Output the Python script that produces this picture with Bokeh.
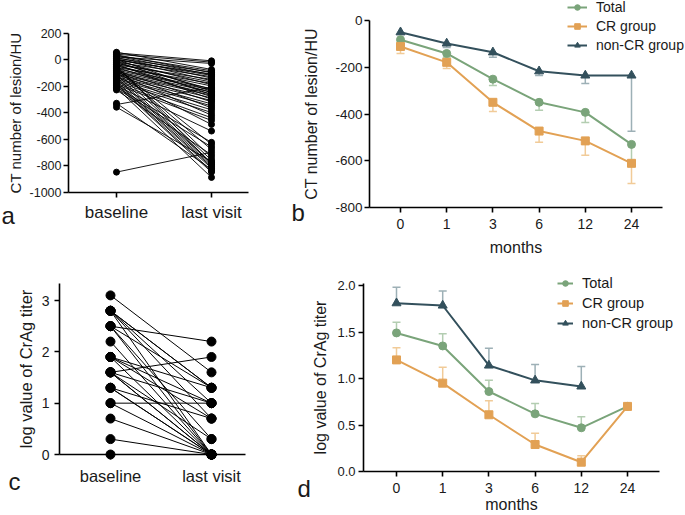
import math
from bokeh.plotting import figure
from bokeh.layouts import row, column
from bokeh.models import (ColumnDataSource, Whisker, TeeHead, Legend, LegendItem, Label,
                          FixedTicker, Range1d)
from bokeh.embed import file_html
from bokeh.resources import INLINE

FONT = "Liberation Sans"
INK = "#1a1a1a"

# ---------------- data ----------------
visit_labels = ["baseline", "last visit"]

# panel a: CT number of lesion (HU), paired baseline / last visit
ct_baseline = [50, 40, 20, 55, 30, 10, 35, -5, 25, 0, -20, 15, -40, 5, -30, -60, -10, -50,
               -340, -70, -25, -80, 0, -90, -45, -100, -15, -110, -60, -120, -35, -130, -85,
               -140, -150, -95, -160, -170, -105, -180, -190, -125, -200, -210, -65, -220,
               -75, -850, -230, -55, -90, -360, -115, -135, -40, -145, -165, -175, -330,
               -185, -195, -215]
ct_last = [-10, -20, -30, -75, -85, -95, -100, -110, -115, -120, -130, -140, -150, -160,
           -170, -180, -190, -200, -210, -220, -225, -230, -240, -245, -250, -260, -265,
           -270, -280, -290, -300, -310, -320, -335, -350, -365, -380, -400, -420, -440,
           -460, -490, -540, -625, -640, -660, -680, -700, -720, -740, -760, -770, -780,
           -785, -790, -800, -810, -820, -830, -840, -850, -890]
ct_ticks = [-1000, -800, -600, -400, -200, 0, 200]

# panel b / d categories
month_labels = ["0", "1", "3", "6", "12", "24"]
group_names = ["Total", "CR group", "non-CR group"]

# panel b: CT number over time (mean, SEM drawn downward)
ct_total = [-82, -141, -251, -350, -393, -530]
ct_total_err = [15, 17, 27, 34, 43, 70]
ct_cr = [-111, -179, -350, -473, -515, -611]
ct_cr_err = [30, 26, 39, 48, 62, 86]
ct_noncr = [-50, -98, -136, -217, -235, -235]
ct_noncr_err = [10, 17, 21, 18, 34, 239]
ct_time_ticks = [-800, -600, -400, -200, 0]

# panel c: log CrAg titer, paired baseline / last visit
crag_baseline = [3.1, 2.8, 2.8, 2.8, 2.8, 2.8, 2.5, 2.5, 2.5, 2.5, 2.2, 1.9, 1.9, 1.9, 1.9,
                 1.6, 1.6, 1.6, 1.6, 1.6, 1.3, 1.3, 1.3, 1.0, 1.0, 0.7, 0.3, 0.0]
crag_last = [1.6, 1.3, 1.0, 0.7, 0.0, 1.3, 2.2, 1.3, 0.3, 0.0, 0.0, 1.3, 0.7, 0.0, 1.0,
             1.9, 1.0, 0.3, 0.0, 0.0, 0.0, 0.0, 0.7, 1.0, 0.0, 0.0, 0.0, 0.0]
crag_ticks = [0, 1, 2, 3]

# panel d: log CrAg titer over time (mean, SEM drawn upward)
nan = float("nan")
crag_total = [1.49, 1.35, 0.86, 0.62, 0.47, 0.70]
crag_total_err = [0.115, 0.13, 0.12, 0.11, 0.12, 0.0]
crag_cr = [1.20, 0.95, 0.61, 0.29, 0.10, 0.70]
crag_cr_err = [0.13, 0.17, 0.15, 0.12, 0.07, 0.0]
crag_noncr = [1.81, 1.785, 1.14, 0.98, 0.915, nan]
crag_noncr_err = [0.17, 0.155, 0.185, 0.17, 0.215, 0.0]
crag_time_ticks = [0.0, 0.5, 1.0, 1.5, 2.0]

colors = {"Total": "#7AA47A", "CR group": "#E2A154", "non-CR group": "#33505C"}
err_colors = {"Total": "#B3CDB1", "CR group": "#F1CB98", "non-CR group": "#9DB0B6"}
markers = {"Total": "circle", "CR group": "square", "non-CR group": "triangle"}
msizes = {"Total": 8, "CR group": 8, "non-CR group": 9}


# ---------------- layout helpers ----------------
class Geo:
    """Pixel geometry of a panel: the frame fills the whole canvas."""
    def __init__(self, W, H, x0, xs, y0, ys):
        self.W, self.H, self.x0, self.xs, self.y0, self.ys = W, H, x0, xs, y0, ys

    def dx(self, px):
        return (px - self.x0) / self.xs

    def dy(self, py):
        return (self.y0 - py) / self.ys


def make_fig(g):
    p = figure(width=g.W, height=g.H, x_range=Range1d(g.dx(0), g.dx(g.W)),
               y_range=Range1d(g.dy(g.H), g.dy(0)), output_backend="svg",
               toolbar_location=None, min_border=0, min_border_left=0, min_border_right=0,
               min_border_top=0, min_border_bottom=0)
    p.xgrid.visible = False
    p.ygrid.visible = False
    p.outline_line_color = None
    p.background_fill_color = "white"
    p.border_fill_color = "white"
    for ax in (p.xaxis[0], p.yaxis[0]):
        ax.axis_line_color = "black"
        ax.axis_line_width = 1.6
        ax.major_tick_line_color = "black"
        ax.major_tick_line_width = 1.6
        ax.major_tick_out = 5
        ax.major_tick_in = 0
        ax.minor_tick_line_color = None
        ax.major_label_text_font = FONT
        ax.axis_label_text_font = FONT
        ax.axis_label_text_font_style = "normal"
        ax.major_label_text_color = INK
        ax.axis_label_text_color = INK
    return p


def set_axes(p, g, xb, ybot, ytop, xticks, xlabels, yticks, ylabels, xfs, yfs, yl, ylfs,
             xstand, ystand, ylstand, xl=None, xlfs=None, xlstand=0):
    xa, ya = p.xaxis[0], p.yaxis[0]
    xlo, xhi = g.dx(xb[0]), g.dx(xb[1])
    xa.ticker = FixedTicker(ticks=xticks)
    xa.major_label_overrides = {t: s for t, s in zip(xticks, xlabels)}
    xa.major_label_text_font_size = xfs
    xa.major_label_standoff = xstand
    xa.bounds = (xlo, xhi)
    xa.fixed_location = ybot
    if xl:
        xa.axis_label = xl
        xa.axis_label_text_font_size = xlfs
        xa.axis_label_standoff = xlstand
    ya.ticker = FixedTicker(ticks=yticks)
    ya.major_label_overrides = {t: s for t, s in zip(yticks, ylabels)}
    ya.major_label_text_font_size = yfs
    ya.major_label_standoff = ystand
    ya.axis_label = yl
    ya.axis_label_text_font_size = ylfs
    ya.axis_label_standoff = ylstand
    ya.bounds = (ybot, ytop)
    ya.fixed_location = xlo


def letter(p, g, txt, px, py):
    p.add_layout(Label(x=g.dx(px), y=g.dy(py), text=txt, text_font=FONT,
                       text_font_size="24px", text_color=INK,
                       text_baseline="alphabetic", text_align="left"))


def paired(p, base, last, msize, lw):
    i0 = visit_labels.index("baseline")
    i1 = visit_labels.index("last visit")
    p.multi_line(xs=[[i0, i1] for _ in base], ys=[[b, l] for b, l in zip(base, last)],
                 line_color="black", line_width=lw)
    p.scatter([i0] * len(base), base, size=msize, color="black")
    p.scatter([i1] * len(last), last, size=msize, color="black")


def series(p, name, vals, errs, downward):
    xs = list(range(len(month_labels)))
    src = ColumnDataSource(dict(x=xs, y=vals))
    wx, wlo, whi = [], [], []
    for x, v, e in zip(xs, vals, errs):
        if not math.isnan(v) and e > 0:
            wx.append(x)
            if downward:
                wlo.append(v - e); whi.append(v)
            else:
                wlo.append(v); whi.append(v + e)
    wsrc = ColumnDataSource(dict(x=wx, lo=wlo, hi=whi))
    head = TeeHead(size=8, line_color=err_colors[name], line_width=1.5)
    if downward:
        w = Whisker(source=wsrc, base="x", lower="lo", upper="hi", lower_head=head,
                    upper_head=None, line_color=err_colors[name], line_width=1.5,
                    level="underlay")
    else:
        w = Whisker(source=wsrc, base="x", lower="lo", upper="hi", upper_head=head,
                    lower_head=None, line_color=err_colors[name], line_width=1.5,
                    level="underlay")
    p.add_layout(w)
    ln = p.line("x", "y", source=src, line_color=colors[name], line_width=2)
    sc = p.scatter("x", "y", source=src, marker=markers[name], size=msizes[name],
                   fill_color=colors[name], line_color=colors[name])
    return LegendItem(label=name, renderers=[ln, sc])


def legend(p, items, loc, fs, gw, stand, spacing):
    lg = Legend(items=items, location=loc, label_text_font=FONT, label_text_font_size=fs,
                label_text_color=INK, glyph_width=gw, glyph_height=14, label_height=14,
                label_standoff=stand, spacing=spacing, padding=0, margin=0,
                border_line_alpha=0, background_fill_alpha=0)
    p.add_layout(lg)


# ---------------- panel a ----------------
ga = Geo(290, 270, 116, 95, 59, 0.1325)
pa = make_fig(ga)
set_axes(pa, ga, (68, 248), ct_ticks[0], ct_ticks[-1], [0, 1], visit_labels, ct_ticks,
         [str(t) for t in ct_ticks], "17px", "12.5px", "CT number of lesion/HU", "15px",
         6, 2, 3)
paired(pa, ct_baseline, ct_last, 6, 0.9)
letter(pa, ga, "a", 1, 215)

# ---------------- panel b ----------------
gb = Geo(394, 270, 110, 46.2, 20, 0.23375)
pb = make_fig(gb)
set_axes(pb, gb, (79, 372), ct_time_ticks[0], ct_time_ticks[-1],
         list(range(len(month_labels))), month_labels, ct_time_ticks,
         [str(t) for t in ct_time_ticks], "14px", "13.5px", "CT number of lesion/HU",
         "16px", 6, 2, 12, xl="months", xlfs="16px", xlstand=7)
items_b = [series(pb, "non-CR group", ct_noncr, ct_noncr_err, True),
           series(pb, "Total", ct_total, ct_total_err, True),
           series(pb, "CR group", ct_cr, ct_cr_err, True)]
legend(pb, [items_b[1], items_b[2], items_b[0]], (277, 217), "14px", 20, 9, 3)
letter(pb, gb, "b", 1, 212)

# ---------------- panel c ----------------
gc = Geo(290, 245, 110, 101, 184, 51.33)
pc = make_fig(gc)
set_axes(pc, gc, (59, 245), crag_ticks[0], gc.dy(13), [0, 1], visit_labels, crag_ticks,
         [str(t) for t in crag_ticks], "16.5px", "14px", "log value of CrAg titer",
         "16.5px", 7, 5, 4)
paired(pc, crag_baseline, crag_last, 9, 1.0)
letter(pc, gc, "c", 8, 211)

# ---------------- panel d ----------------
gd = Geo(394, 245, 106, 46.2, 201, 93)
pd_ = make_fig(gd)
set_axes(pd_, gd, (73, 369), crag_time_ticks[0], gd.dy(13),
         list(range(len(month_labels))), month_labels, crag_time_ticks,
         ["%.1f" % t for t in crag_time_ticks], "14px", "13px", "log value of CrAg titer",
         "16px", 6, 3, 5, xl="months", xlfs="16px", xlstand=0)
items_d = [series(pd_, "non-CR group", crag_noncr, crag_noncr_err, False),
           series(pd_, "Total", crag_total, crag_total_err, False),
           series(pd_, "CR group", crag_cr, crag_cr_err, False)]
legend(pd_, [items_d[1], items_d[2], items_d[0]], (267, 184), "14.5px", 16, 9, 4)
letter(pd_, gd, "d", 7, 218)

layout = column(row(pa, pb), row(pc, pd_))
open("out.html", "w").write(file_html(layout, INLINE))
